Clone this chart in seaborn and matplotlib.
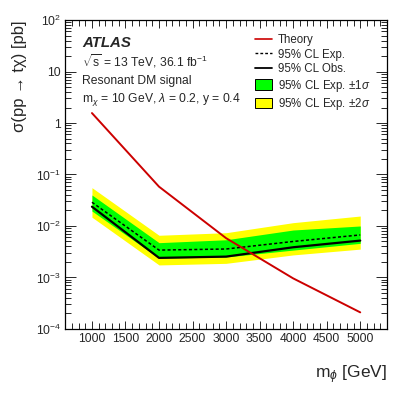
import numpy as np
import pandas as pd
import matplotlib
matplotlib.use("Agg")
import matplotlib.pyplot as plt
import matplotlib.patches as mpatches
import matplotlib.lines as mlines
from matplotlib.ticker import LogLocator, NullFormatter, FuncFormatter
import seaborn as sns

# =========================
# DATA
# =========================
mass = [1000, 2000, 3000, 4000, 5000]
theory = [1.56, 0.058, 0.0058, 0.00096, 0.00021]
obs = [0.0237, 0.0024, 0.00254, 0.00386, 0.0052]
exp = [0.0289, 0.0034, 0.00357, 0.0050, 0.0067]
exp_1s_up = [0.040, 0.00474, 0.0054, 0.00835, 0.0100]
exp_1s_dn = [0.0195, 0.00236, 0.0025, 0.0034, 0.0046]
exp_2s_up = [0.0555, 0.0066, 0.0074, 0.0116, 0.0156]
exp_2s_dn = [0.0148, 0.00175, 0.00188, 0.00274, 0.00355]

df = pd.DataFrame({"mass": mass, "theory": theory, "obs": obs, "exp": exp})

# =========================
# STYLE
# =========================
sns.set_style("ticks")
plt.rcParams['font.family'] = ['Liberation Sans', 'DejaVu Sans']
plt.rcParams['mathtext.fontset'] = 'custom'
plt.rcParams['mathtext.rm'] = 'Liberation Sans'
plt.rcParams['mathtext.it'] = 'Liberation Sans:italic'
plt.rcParams['mathtext.sf'] = 'Liberation Sans'

fig = plt.figure(figsize=(4.07, 3.93), dpi=100)
ax = fig.add_axes([0.16, 0.163, 0.791, 0.786])

ax.fill_between(mass, exp_2s_dn, exp_2s_up, color="#ffff00", lw=0)
ax.fill_between(mass, exp_1s_dn, exp_1s_up, color="#00ff00", lw=0)
sns.lineplot(data=df, x="mass", y="exp", ax=ax, color="black", lw=1.1, linestyle=(0, (2, 1.5)))
sns.lineplot(data=df, x="mass", y="obs", ax=ax, color="black", lw=1.6)
sns.lineplot(data=df, x="mass", y="theory", ax=ax, color="#cc0000", lw=1.4)

ax.set_yscale("log")
ax.set_xlim(600, 5400)
ax.set_ylim(1e-4, 1e2)


def ylab(v, pos):
    if np.isclose(v, 1):
        return "1"
    if np.isclose(v, 10):
        return "10"
    return r"10$^{%d}$" % int(round(np.log10(v)))


ax.yaxis.set_major_locator(LogLocator(base=10, numticks=10))
ax.yaxis.set_major_formatter(FuncFormatter(ylab))
ax.yaxis.set_minor_locator(LogLocator(base=10, subs=np.arange(2, 10), numticks=20))
ax.yaxis.set_minor_formatter(NullFormatter())
ax.set_xticks([1000, 1500, 2000, 2500, 3000, 3500, 4000, 4500, 5000])
ax.set_xticks(np.arange(600, 5401, 100), minor=True)

ax.tick_params(which="both", direction="in", top=True, right=True, labelsize=8.7, width=0.7)
ax.tick_params(which="major", length=8)
ax.tick_params(which="minor", length=4)
ax.tick_params(axis="x", which="major", length=6, pad=3)
ax.tick_params(axis="y", which="major", pad=3)
for s in ax.spines.values():
    s.set_linewidth(0.9)
    s.set_color("black")

ax.set_xlabel(r"m$_{\phi}$ [GeV]", fontsize=12.5, loc="right", labelpad=13)
ax.set_ylabel("σ(pp → tχ) [pb]", fontsize=12, loc="top", labelpad=6)

# text block
ax.text(0.052, 0.925, "ATLAS", transform=ax.transAxes, fontsize=10.8, fontweight="bold", style="italic", va="center")
ax.text(0.052, 0.868, r"$\sqrt{\rm s}$ = 13 TeV, 36.1 fb$^{-1}$", transform=ax.transAxes, fontsize=8.7, va="center")
ax.text(0.052, 0.803, "Resonant DM signal", transform=ax.transAxes, fontsize=8.7, va="center")
ax.text(0.052, 0.742, r"m$_{\chi}$ = 10 GeV, $\lambda$ = 0.2, y = 0.4", transform=ax.transAxes, fontsize=8.7, va="center")

# legend
handles = [
    mlines.Line2D([], [], color="#cc0000", lw=1.2, label="Theory"),
    mlines.Line2D([], [], color="black", lw=1.0, linestyle=(0, (2, 1.5)), label="95% CL Exp."),
    mlines.Line2D([], [], color="black", lw=1.3, label="95% CL Obs."),
    mpatches.Patch(facecolor="#00ff00", edgecolor="black", lw=0.7, label=r"95% CL Exp. $\pm$1$\sigma$"),
    mpatches.Patch(facecolor="#ffff00", edgecolor="black", lw=0.7, label=r"95% CL Exp. $\pm$2$\sigma$"),
]
ax.legend(handles=handles, loc="upper left", bbox_to_anchor=(0.565, 0.98), frameon=False,
          fontsize=8.3, handlelength=1.5, handleheight=1.0, handletextpad=0.5, labelspacing=0.2,
          borderpad=0.2)

fig.savefig("out.png", dpi=100)
